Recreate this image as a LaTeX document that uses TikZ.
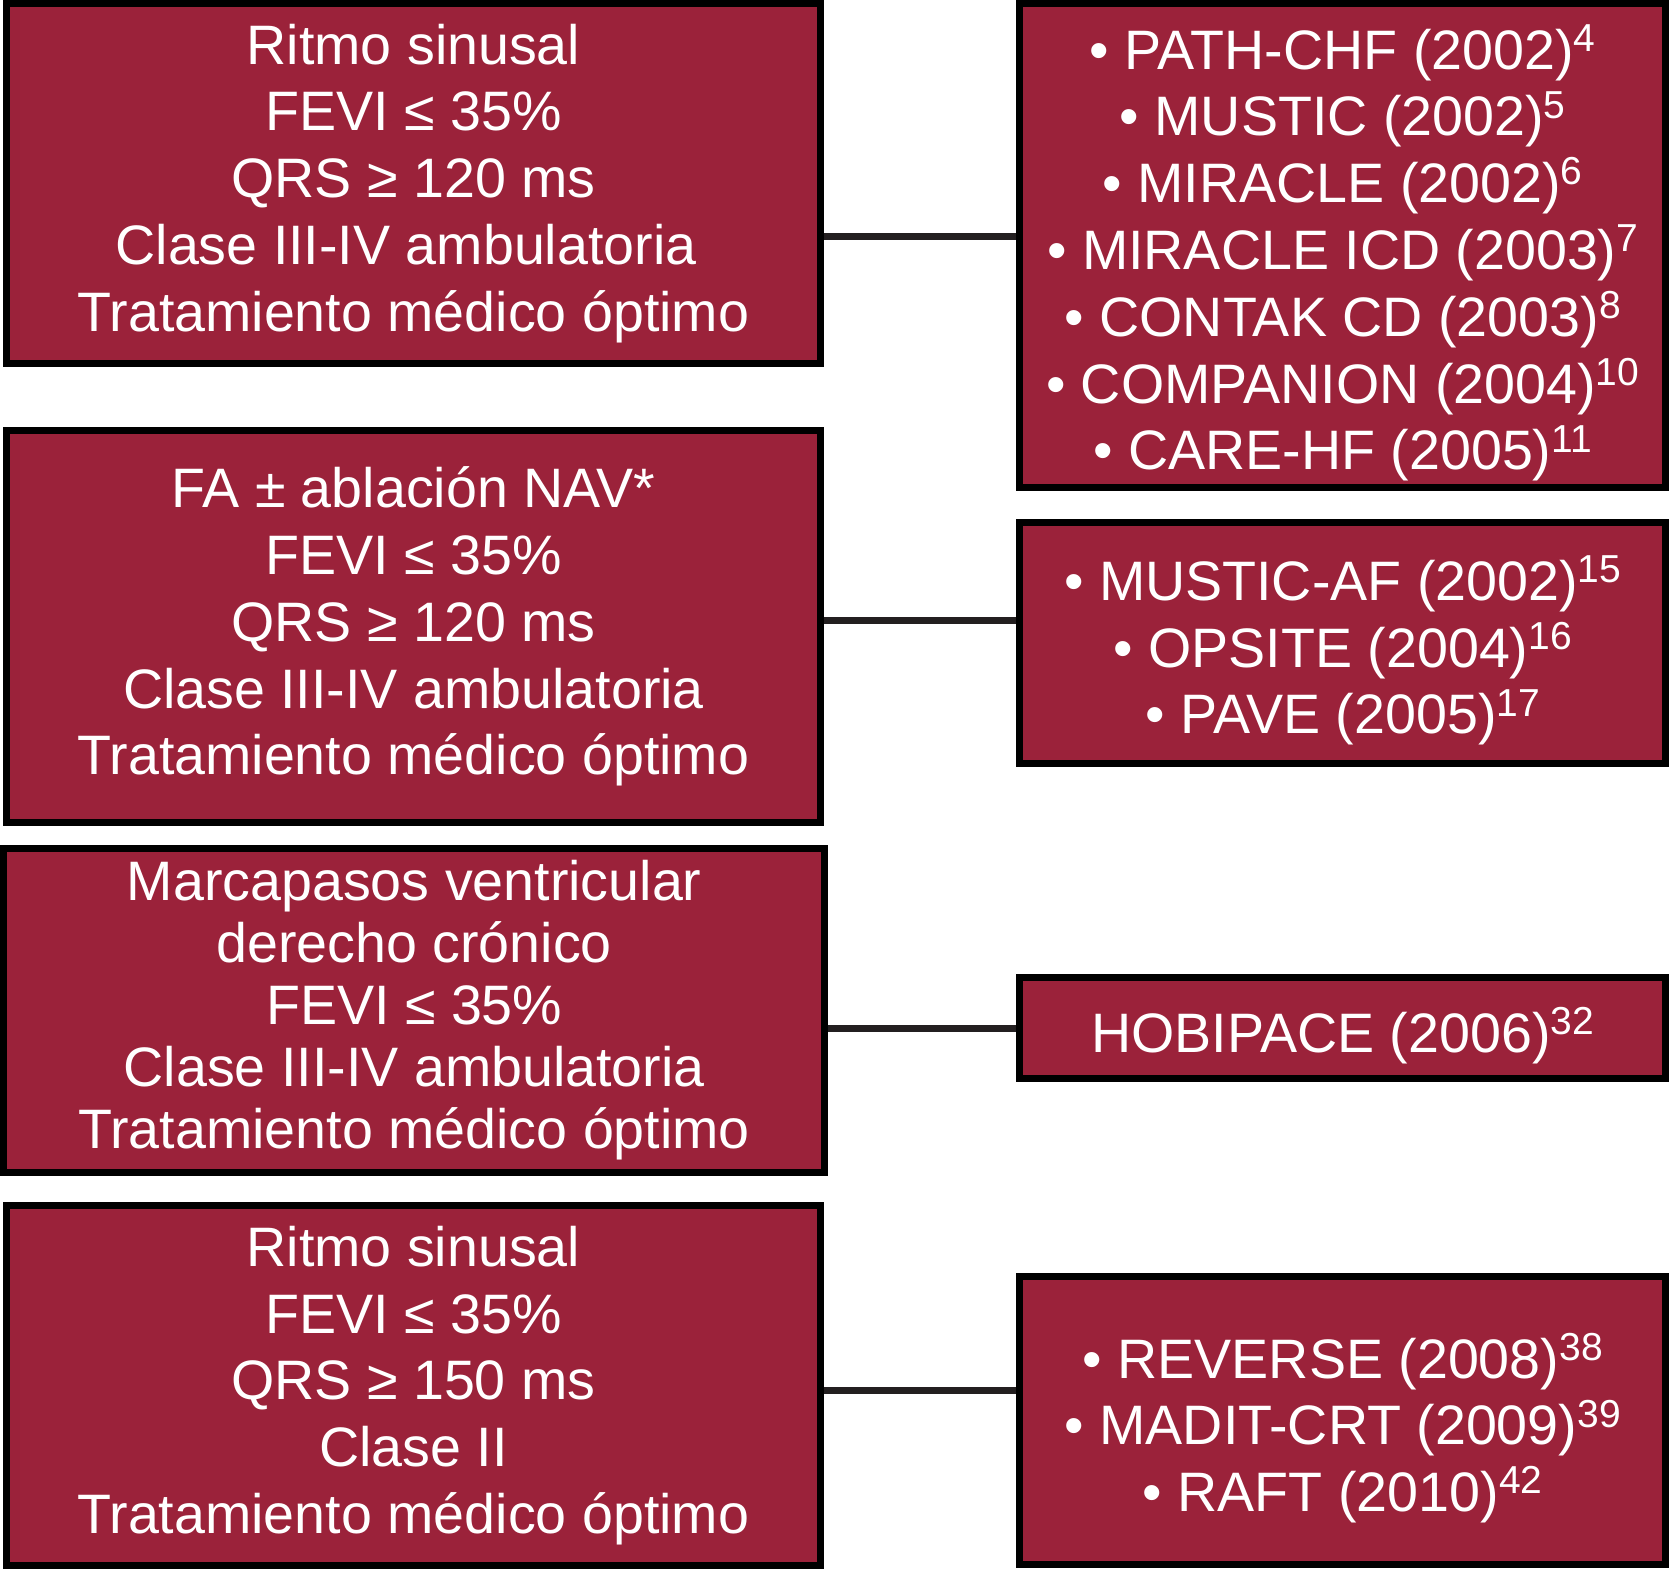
\documentclass[tikz,border=0pt]{standalone}
\usepackage{fontspec}
\setmainfont{Liberation Sans}
\definecolor{boxred}{RGB}{155,34,58}
\definecolor{connline}{HTML}{231F20}
\newcommand\sps[1]{\raisebox{0.32em}{\fontsize{39}{39}\selectfont #1}}
\newcommand\topstrut{\rule{0pt}{60pt}}
\begin{document}
\begin{tikzpicture}[x=1pt,y=-1pt,
  box/.style={draw=black, line width=7pt, fill=boxred, text=white, inner sep=0pt,
    align=center, font=\fontsize{55.6}{66.8}\selectfont},
  rbox/.style={box, minimum width=646pt},
  conn/.style={draw=connline, line width=7pt}]
\useasboundingbox (0,0) rectangle (1669,1569);
\node[box, minimum width=813.6pt, minimum height=360pt] (L1) at (413.5,183.3)
  {Ritmo sinusal\\FEVI ≤ 35\%\\QRS ≥ 120 ms\\Clase III-IV ambulatoria\rule{15pt}{0pt}\\Tratamiento médico óptimo};
\node[box, minimum width=813.6pt, minimum height=391.8pt] (L2) at (413.5,626.6)
  {FA ± ablación NAV*\\FEVI ≤ 35\%\\QRS ≥ 120 ms\\Clase III-IV ambulatoria\\Tratamiento médico óptimo};
\node[box, minimum width=820.5pt, minimum height=323.7pt, font=\fontsize{55.6}{62}\selectfont] (L3) at (414.2,1010.2)
  {Marcapasos ventricular\\derecho crónico\\FEVI ≤ 35\%\\Clase III-IV ambulatoria\\Tratamiento médico óptimo};
\node[box, minimum width=813.8pt, minimum height=359.2pt] (L4) at (413.4,1385.4)
  {Ritmo sinusal\\FEVI ≤ 35\%\\QRS ≥ 150 ms\\Clase II\\Tratamiento médico óptimo};
\node[rbox, minimum height=484pt] (R1) at (1342.7,245.3)
  {\topstrut• PATH-CHF (2002)\sps{4}\\• MUSTIC (2002)\sps{5}\\• MIRACLE (2002)\sps{6}\\• MIRACLE ICD (2003)\sps{7}\\• CONTAK CD (2003)\sps{8}\\• COMPANION (2004)\sps{10}\\• CARE-HF (2005)\sps{11}};
\node[rbox, minimum height=240.3pt] (R2) at (1342.7,642.85)
  {\topstrut• MUSTIC-AF (2002)\sps{15}\\• OPSITE (2004)\sps{16}\\• PAVE (2005)\sps{17}};
\node[rbox, minimum height=100.8pt] (R3) at (1342.7,1027.9)
  {\topstrut HOBIPACE (2006)\sps{32}};
\node[rbox, minimum height=287.8pt] (R4) at (1342.7,1420.6)
  {\topstrut• REVERSE (2008)\sps{38}\\• MADIT-CRT (2009)\sps{39}\\• RAFT (2010)\sps{42}};
\draw[conn] (L1.east |- 0,236.3) -- (R1.west |- 0,236.3);
\draw[conn] (L2.east |- 0,620.5) -- (R2.west |- 0,620.5);
\draw[conn] (L3.east |- 0,1028.7) -- (R3.west |- 0,1028.7);
\draw[conn] (L4.east |- 0,1390.5) -- (R4.west |- 0,1390.5);
\end{tikzpicture}
\end{document}
